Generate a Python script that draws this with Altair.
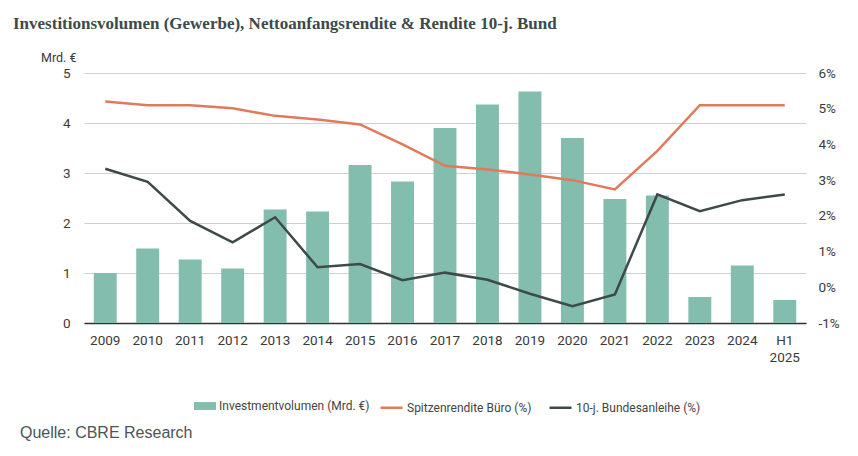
import altair as alt
import pandas as pd

years = ["2009", "2010", "2011", "2012", "2013", "2014", "2015", "2016", "2017",
         "2018", "2019", "2020", "2021", "2022", "2023", "2024", "H1 2025"]
volume = [1.00, 1.49, 1.27, 1.09, 2.27, 2.23, 3.16, 2.83, 3.90,
          4.37, 4.63, 3.70, 2.48, 2.55, 0.52, 1.15, 0.46]
prime_yield = [5.20, 5.10, 5.10, 5.01, 4.80, 4.70, 4.56, 4.00, 3.40,
               3.30, 3.16, 3.00, 2.74, 3.82, 5.10, 5.10, 5.10]
bund_yield = [3.32, 2.95, 1.86, 1.26, 1.96, 0.56, 0.65, 0.20, 0.41,
              0.21, -0.18, -0.53, -0.20, 2.60, 2.13, 2.44, 2.60]

bar_name = "Investmentvolumen (Mrd. €)"
line_names = ["Spitzenrendite Büro (%)", "10-j. Bundesanleihe (%)"]
left_ticks = [0, 1, 2, 3, 4, 5]
right_ticks = [-1, 0, 1, 2, 3, 4, 5, 6]

TEAL = "#82bdad"
ORANGE = "#e07a5c"
DARK = "#3e4a49"
TXT = "#3a3a3a"
FONT = "Roboto"

bars_df = pd.DataFrame({"year": years, "value": volume, "series": [bar_name] * len(years)})
lines_df = pd.DataFrame({
    "year": years + years,
    "value": prime_yield + bund_yield,
    "series": [line_names[0]] * len(years) + [line_names[1]] * len(years),
})

x_enc = alt.X(
    "year:N", sort=years, title=None,
    scale=alt.Scale(paddingInner=0.46, paddingOuter=0.23),
    axis=alt.Axis(
        labelAngle=0, labelFont=FONT, labelFontSize=13.5, labelColor=TXT,
        labelPadding=10, ticks=False, domainColor="#333333", domainWidth=1.5,
        labelExpr="datum.label == 'H1 2025' ? ['H1', '2025'] : datum.label",
        labelLineHeight=17, labelBaseline="top",
    ),
)

bars = alt.Chart(bars_df).mark_bar(color=TEAL).encode(
    x=x_enc,
    y=alt.Y(
        "value:Q", scale=alt.Scale(domain=[0, 5], nice=False),
        axis=alt.Axis(
            values=left_ticks, title="Mrd. €", titleAngle=0, titleAlign="right",
            titleX=-8, titleY=-12, titleBaseline="alphabetic", titleFont=FONT,
            titleFontSize=12.5, titleFontWeight="normal", titleColor=TXT,
            labelFont=FONT, labelFontSize=13.5, labelColor=TXT, labelPadding=14,
            ticks=False, domain=False, grid=True, gridColor="#cfcfcf", gridWidth=1,
        ),
    ),
    color=alt.Color(
        "series:N", scale=alt.Scale(domain=[bar_name], range=[TEAL]),
        legend=alt.Legend(
            title=None, orient="none", legendX=110, legendY=322, direction="horizontal",
            symbolType="M-1,-0.36L1,-0.36L1,0.36L-1,0.36Z", symbolSize=484,
            symbolStrokeWidth=0, labelFont=FONT, labelFontSize=12, labelColor="#444444",
            labelOffset=3,
        ),
    ),
)

lines = alt.Chart(lines_df).mark_line(strokeWidth=2.5).encode(
    x=x_enc,
    y=alt.Y(
        "value:Q", scale=alt.Scale(domain=[-1, 6], nice=False),
        axis=alt.Axis(
            orient="right", values=right_ticks, title=None, grid=False, ticks=False,
            domain=False, labelFont=FONT, labelFontSize=13.5, labelColor=TXT,
            labelPadding=12, labelExpr="datum.value + '%'",
        ),
    ),
    stroke=alt.Stroke(
        "series:N", sort=line_names,
        scale=alt.Scale(domain=line_names, range=[ORANGE, DARK]),
        legend=alt.Legend(
            title=None, orient="none", legendX=295, legendY=322, direction="horizontal",
            symbolType="stroke", symbolSize=484, symbolStrokeWidth=2.5,
            labelFont=FONT, labelFontSize=12, labelColor="#444444",
            labelOffset=3, columnPadding=12,
        ),
    ),
)

source = alt.Chart(pd.DataFrame({"t": ["Quelle: CBRE Research"]})).mark_text(
    align="left", baseline="alphabetic", font="Liberation Sans", fontSize=16,
    color="#4d5457",
).encode(text="t:N", x=alt.value(-64), y=alt.value(365))

chart = alt.layer(bars, lines, source).resolve_scale(
    y="independent"
).properties(
    width=722, height=250,
    autosize=alt.AutoSizeParams(type="none"),
    padding={"left": 84, "top": 73, "right": 52, "bottom": 133},
    title=alt.Title(
        "Investitionsvolumen (Gewerbe), Nettoanfangsrendite & Rendite 10-j. Bund",
        anchor="start", frame="group", dx=-71, offset=18,
        font="Liberation Serif", fontSize=17, fontWeight="bold", color="#3d4a4a",
    ),
).configure_view(stroke=None)

chart.save("out.html", embed_options={"renderer": "svg", "actions": False})
